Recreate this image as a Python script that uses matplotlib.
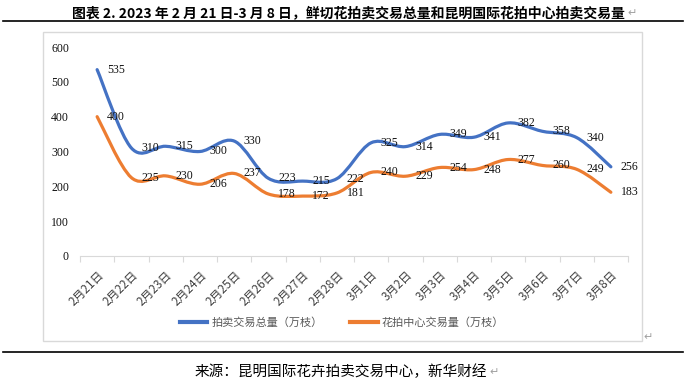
import numpy as np
import matplotlib
matplotlib.use('Agg')
import matplotlib.pyplot as plt
from matplotlib.path import Path
from matplotlib.patches import PathPatch, Rectangle
from matplotlib.lines import Line2D

plt.rcParams['font.family'] = ['Noto Sans CJK SC', 'DejaVu Sans']

# data
dates = ['2月21日', '2月22日', '2月23日', '2月24日', '2月25日', '2月26日', '2月27日', '2月28日',
         '3月1日', '3月2日', '3月3日', '3月4日', '3月5日', '3月6日', '3月7日', '3月8日']
total = [535, 310, 315, 300, 330, 223, 215, 222, 325, 314, 349, 341, 382, 358, 340, 256]
center = [400, 225, 230, 206, 237, 178, 172, 181, 240, 229, 254, 248, 277, 260, 249, 183]
series_names = ['拍卖交易总量（万枝）', '花拍中心交易量（万枝）']

BLUE = '#4472C4'
ORANGE = '#ED7D31'
GRAY = '#D9D9D9'
W, H = 685, 382


def smooth_path(ys):
    # Excel-style smoothed line: cubic bezier through every point
    pts = list(enumerate(ys))
    pts = [pts[0]] + pts + [pts[-1]]
    verts = [pts[1]]
    codes = [Path.MOVETO]
    for i in range(1, len(pts) - 2):
        p0, p1, p2, p3 = pts[i - 1], pts[i], pts[i + 1], pts[i + 2]
        c1 = (p1[0] + (p2[0] - p0[0]) / 6, p1[1] + (p2[1] - p0[1]) / 6)
        c2 = (p2[0] - (p3[0] - p1[0]) / 6, p2[1] - (p3[1] - p1[1]) / 6)
        verts += [c1, c2, p2]
        codes += [Path.CURVE4] * 3
    return Path(verts, codes)


fig = plt.figure(figsize=(W / 100, H / 100), dpi=100)
ax = fig.add_axes([80 / W, 1 - 256 / H, 548 / W, 209 / H])

for ys, col in [(total, BLUE), (center, ORANGE)]:
    ax.add_patch(PathPatch(smooth_path(ys), fill=False, edgecolor=col, lw=2.3,
                           capstyle='round', joinstyle='round'))
    for i, v in enumerate(ys):
        ax.annotate(str(v), (i, v), xytext=(7, 0), textcoords='offset points',
                    ha='left', va='center', fontsize=8.5, family='Liberation Serif',
                    color='#111111')

ax.set_xlim(-0.5, len(dates) - 0.5)
ax.set_ylim(0, 600)
for s in ['top', 'right', 'left']:
    ax.spines[s].set_visible(False)
ax.spines['bottom'].set_color(GRAY)

ax.set_xticks(np.arange(-0.5, len(dates), 1))
ax.set_xticklabels([])
ax.tick_params(axis='x', which='major', length=4, color=GRAY)
ax.set_xticks(range(len(dates)), minor=True)
ax.set_xticklabels(dates, minor=True, rotation=45, ha='right', va='top',
                   rotation_mode='anchor', fontsize=8.5, color='#404040')
ax.tick_params(axis='x', which='minor', length=0, pad=9)

ax.set_yticks(range(0, 601, 100))
ax.set_yticklabels([str(v) for v in range(0, 601, 100)], family='Liberation Serif',
                   fontsize=8.5, color='#111111')
ax.tick_params(axis='y', length=0, pad=8)

# legend
handles = [Line2D([], [], color=BLUE, lw=3), Line2D([], [], color=ORANGE, lw=3)]
fig.legend(handles, series_names, loc='center', bbox_to_anchor=(342 / W, 1 - 323 / H),
           ncol=2, frameon=False, fontsize=8, handlelength=2.45, handletextpad=0.35,
           columnspacing=2.5, labelcolor='#595959')

# frame around chart
fig.add_artist(Rectangle((43 / W, 1 - 341 / H), (642 - 43) / W, (341 - 32) / H,
                         transform=fig.transFigure, fill=False, edgecolor=GRAY, lw=1))
fig.text(648 / W, 1 - 337 / H, '↵', ha='center', va='center', fontsize=8, color='#a0a0a0')

# title and source
fig.text(348 / W, 1 - 13 / H, '图表 2. 2023 年 2 月 21 日-3 月 8 日，鲜切花拍卖交易总量和昆明国际花拍中心拍卖交易量',
         ha='center', va='center', fontsize=10, weight='bold')
fig.text(632 / W, 1 - 13 / H, '↵', ha='center', va='center', fontsize=8, color='#a0a0a0')
fig.add_artist(Line2D([3 / W, 683 / W], [1 - 21 / H] * 2, color='black', lw=1.2))
fig.add_artist(Line2D([3 / W, 683 / W], [1 - 352 / H] * 2, color='black', lw=1.2))
fig.text(487 / W, 1 - 372 / H, '来源：昆明国际花卉拍卖交易中心，新华财经',
         ha='right', va='center', fontsize=10.5)
fig.text(489 / W, 1 - 372 / H, '↵', ha='left', va='center', fontsize=8, color='#a0a0a0')

fig.savefig('out.png', dpi=100)
